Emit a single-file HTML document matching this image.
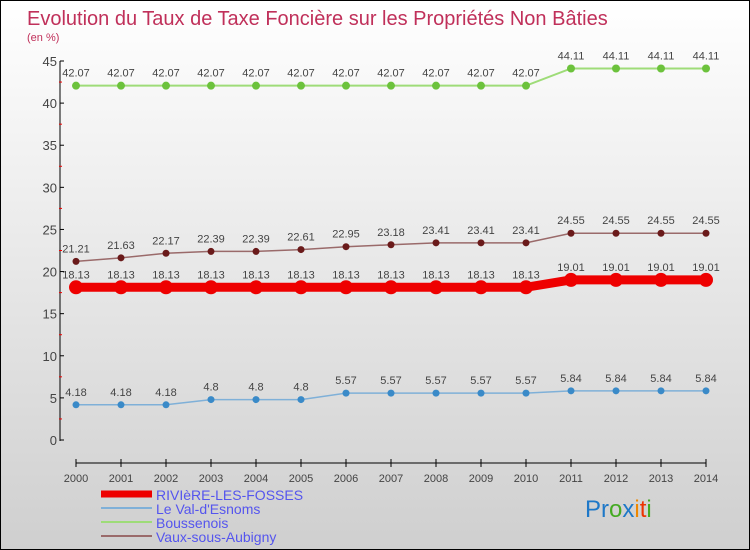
<!DOCTYPE html>
<html><head><meta charset="utf-8"><style>
body{margin:0}
#c{position:relative;width:748px;height:548px;border:1px solid #000;background:linear-gradient(#ffffff,#cfcfcf);overflow:hidden;font-family:"Liberation Sans",sans-serif}
</style></head><body>
<div id="c">
<svg id="s" width="748" height="548" font-family="Liberation Sans, sans-serif"></svg>
</div>
<script>
const years=[2000,2001,2002,2003,2004,2005,2006,2007,2008,2009,2010,2011,2012,2013,2014];
const riviere=[18.13,18.13,18.13,18.13,18.13,18.13,18.13,18.13,18.13,18.13,18.13,19.01,19.01,19.01,19.01];
const valEsnoms=[4.18,4.18,4.18,4.8,4.8,4.8,5.57,5.57,5.57,5.57,5.57,5.84,5.84,5.84,5.84];
const boussenois=[42.07,42.07,42.07,42.07,42.07,42.07,42.07,42.07,42.07,42.07,42.07,44.11,44.11,44.11,44.11];
const vaux=[21.21,21.63,22.17,22.39,22.39,22.61,22.95,23.18,23.41,23.41,23.41,24.55,24.55,24.55,24.55];
const riviereLbl=["18.13","18.13","18.13","18.13","18.13","18.13","18.13","18.13","18.13","18.13","18.13","19.01","19.01","19.01","19.01"];
const valLbl=["4.18","4.18","4.18","4.8","4.8","4.8","5.57","5.57","5.57","5.57","5.57","5.84","5.84","5.84","5.84"];
const bousLbl=["42.07","42.07","42.07","42.07","42.07","42.07","42.07","42.07","42.07","42.07","42.07","44.11","44.11","44.11","44.11"];
const vauxLbl=["21.21","21.63","22.17","22.39","22.39","22.61","22.95","23.18","23.41","23.41","23.41","24.55","24.55","24.55","24.55"];
const yTicks=[0,5,10,15,20,25,30,35,40,45];

const S=document.getElementById('s');const NS='http://www.w3.org/2000/svg';
function x(i){return 75+i*45;}
function y(v){return 439-v*(379/45);}
function mk(t,a,p){const e=document.createElementNS(NS,t);for(const k in a)e.setAttribute(k,a[k]);(p||S).appendChild(e);return e;}
function txt(s,a,name){const e=mk('text',a);e.textContent=s;return e;}

txt('Evolution du Taux de Taxe Foncière sur les Propriétés Non Bâties',{x:26,y:24,fill:'#c0305a','font-size':20},'chart-title');
txt('(en %)',{x:26,y:40,fill:'#c0305a','font-size':11},'y-unit-label');
let ax=mk('line',{x1:59,y1:60,x2:59,y2:440,stroke:'#000'});


ax=mk('line',{x1:75,y1:462,x2:705,y2:462,stroke:'#000'});


yTicks.forEach(v=>{
 const l=mk('line',{x1:59,y1:y(v),x2:63,y2:y(v),stroke:'#000'});
 
 
 txt(String(v),{x:56,y:y(v)+5,'text-anchor':'end','font-size':13,fill:'#444'},'y-tick-label');
 if(v<45){const m=mk('line',{x1:58,y1:y(v+2.5),x2:61,y2:y(v+2.5),stroke:'#e00'});
 
 }
});
years.forEach((yr,i)=>{
 const l=mk('line',{x1:x(i),y1:458,x2:x(i),y2:466,stroke:'#000'});
 
 
 txt(String(yr),{x:x(i),y:481,'text-anchor':'middle','font-size':11,fill:'#444'},'x-tick-label');
});
function series(vals,lbls,color,dot,lw,r,name){
 const p=mk('polyline',{points:vals.map((v,i)=>x(i)+','+y(v)).join(' '),fill:'none',stroke:color,'stroke-width':lw});
 
 
 vals.forEach((v,i)=>{
  const c=mk('circle',{cx:x(i),cy:y(v),r:r,fill:dot});
  
  
  txt(lbls[i],{x:x(i),y:y(v)-9,'text-anchor':'middle','font-size':11,fill:'#444'},name+'-value-label');
 });
}
series(boussenois,bousLbl,'#9edc78','#6cc23c',2,4,'boussenois');
series(vaux,vauxLbl,'#9a6a6a','#6a1a1a',1.5,3.5,'vaux-sous-aubigny');
series(valEsnoms,valLbl,'#7fb0d8','#3a8ac8',1.5,3.5,'le-val-d-esnoms');
series(riviere,riviereLbl,'#ee0000','#ee0000',9,7,'riviere-les-fosses');
const leg=[['RIVIèRE-LES-FOSSES','#ee0000',7],['Le Val-d\'Esnoms','#7fb0d8',2],['Boussenois','#9edc78',2],['Vaux-sous-Aubigny','#9a6a6a',2]];
leg.forEach((l,i)=>{
 const yy=493+i*14;
 const ln=mk('line',{x1:100,y1:yy,x2:151,y2:yy,stroke:l[1],'stroke-width':l[2]});
 
 
 txt(l[0],{x:155,y:yy+6,'font-size':14,fill:'#5555ee'},'legend-entry');
});
const pc=[['P','#1e78c8'],['r','#1e78c8'],['o','#44aa22'],['x','#1e78c8'],['i','#ee8800'],['t','#ee3300'],['i','#44aa22']];
const lg=mk('text',{x:584,y:516,'font-size':24});


pc.forEach(p=>{const s=mk('tspan',{fill:p[1]},lg);s.textContent=p[0];});
</script>
</body></html>
